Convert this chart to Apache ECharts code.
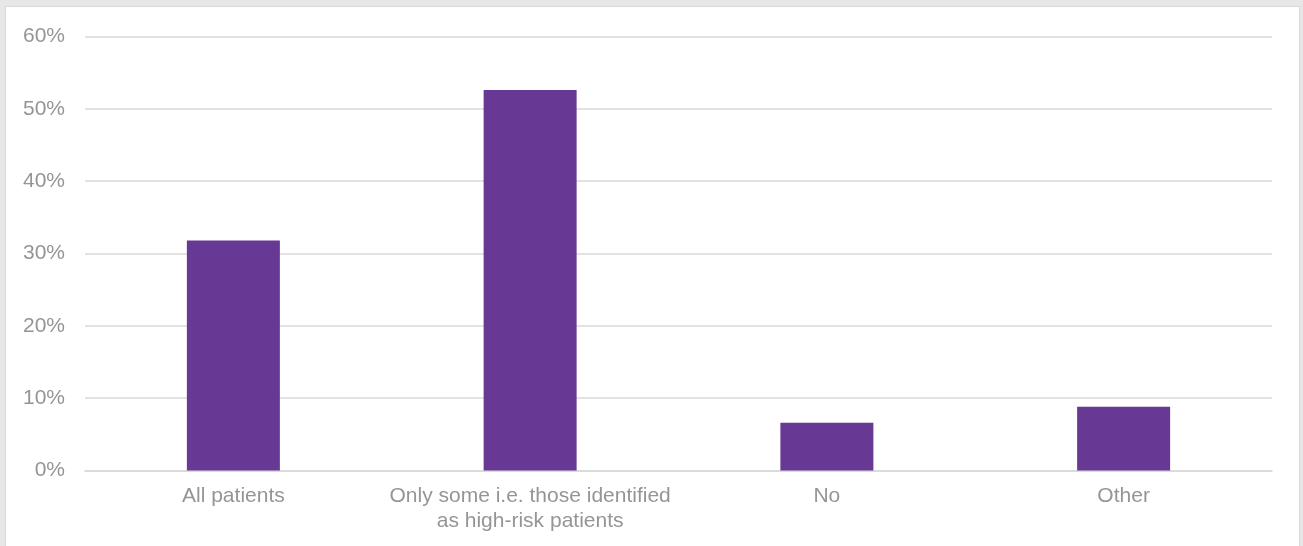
<!DOCTYPE html>
<html>
<head>
<meta charset="utf-8">
<script src="https://cdn.jsdelivr.net/npm/echarts@6/dist/echarts.min.js"></script>
<style>
  html, body { margin: 0; padding: 0; background: #e7e7e8; width: 1303px; height: 546px; overflow: hidden; }
  #chart { position: absolute; left: 6px; top: 7px; width: 1293px; height: 539px; background: #ffffff; box-shadow: 0 0 0 1px #d9d9d9; }
</style>
</head>
<body>
<div id="chart"></div>
<script>
const categories = ['All patients', 'Only some i.e. those identified\nas high-risk patients', 'No', 'Other'];
const values = [31.8, 52.6, 6.6, 8.8];
const yTicks = [0, 10, 20, 30, 40, 50, 60];

const chart = echarts.init(document.getElementById('chart'), null, { renderer: 'canvas' });
chart.setOption({
  animation: false,
  grid: { left: 79, right: 27, top: 29.5, bottom: 75.5, containLabel: false },
  xAxis: {
    type: 'category',
    data: categories,
    axisLine: { show: true, lineStyle: { color: '#d9d9d9', width: 1.5 } },
    axisTick: { show: false },
    axisLabel: {
      color: '#959595',
      fontFamily: 'Liberation Sans, Arial, sans-serif',
      fontSize: 21,
      lineHeight: 25,
      margin: 13,
      interval: 0
    }
  },
  yAxis: {
    type: 'value',
    min: yTicks[0],
    max: yTicks[yTicks.length - 1],
    interval: 10,
    axisLine: { show: false },
    axisTick: { show: false },
    splitLine: { lineStyle: { color: '#d9d9d9', width: 1.5 } },
    axisLabel: {
      color: '#959595',
      fontFamily: 'Liberation Sans, Arial, sans-serif',
      fontSize: 21,
      margin: 20,
      formatter: v => v + '%'
    }
  },
  series: [{
    type: 'bar',
    data: values,
    barWidth: 93,
    itemStyle: { color: '#673894' }
  }]
});
</script>
</body>
</html>
